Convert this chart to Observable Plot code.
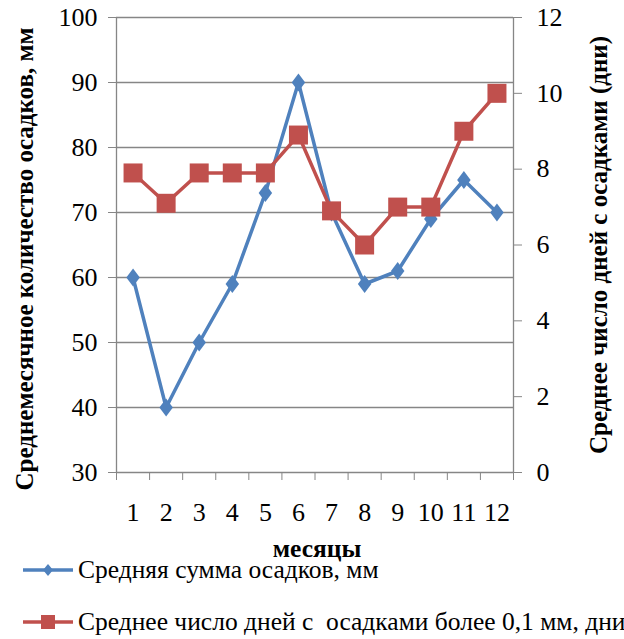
<!DOCTYPE html>
<html><head><meta charset="utf-8">
<script src="https://cdn.jsdelivr.net/npm/d3@7"></script>
<script src="https://cdn.jsdelivr.net/npm/@observablehq/plot@0.6"></script>
<style>
body{margin:0;background:#fff;}
#wrap{position:relative;width:624px;height:639px;font-family:'Liberation Serif';color:#000;}
.leg{position:absolute;left:18px;height:30px;display:flex;align-items:center;font-family:'Liberation Serif';font-size:25.5px;white-space:pre;line-height:30px;}
.leg svg{margin-right:3px;}
svg text{font-family:'Liberation Serif';}
</style></head><body><div id="wrap"></div>
<script>
const months = [1,2,3,4,5,6,7,8,9,10,11,12];
const precip = [60,40,50,59,73,90,70,59,61,69,75,70];
const rainDays = [7.9,7.1,7.9,7.9,7.9,8.9,6.9,6.0,7.0,7.0,9.0,10.0];
const leftTicks = [30,40,50,60,70,80,90,100];
const rightTicks = [0,2,4,6,8,10,12];
const seriesNames = ["Средняя сумма осадков, мм", "Среднее число дней с  осадками более 0,1 мм, дни"];
const leftTitle = "Среднемесячное количество осадков, мм";
const rightTitle = "Среднее число дней с осадками (дни)";
const xTitle = "месяцы";

const FONT = "Liberation Serif";
const blue = "#4F81BD", red = "#C0504D", gray = "#868686";
const toLeft = d => 30 + d * 70 / 12;
const data = months.map((m, i) => ({month: m, precip: precip[i], days: toLeft(rainDays[i])}));
const bounds = d3.range(0.5, 13, 1);

const diamond = {draw(ctx, size){const r = Math.sqrt(size/Math.PI), w = r*0.75; ctx.moveTo(0,-r); ctx.lineTo(w,0); ctx.lineTo(0,r); ctx.lineTo(-w,0); ctx.closePath();}};
const square = {draw(ctx, size){const r = Math.sqrt(size/Math.PI); ctx.moveTo(-r,-r); ctx.lineTo(r,-r); ctx.lineTo(r,r); ctx.lineTo(-r,r); ctx.closePath();}};

const chart = Plot.plot({
  width: 624, height: 639,
  marginLeft: 116, marginRight: 111, marginTop: 17, marginBottom: 167,
  style: {fontFamily: FONT, fontSize: "26px", background: "white", color: "#000"},
  x: {domain: [0.5, 12.5]},
  y: {domain: [30, 100]},
  marks: [
    Plot.ruleY(leftTicks.filter(d => d > 30), {stroke: gray, strokeWidth: 1.3}),
    Plot.ruleY([30], {stroke: gray, strokeWidth: 1.3}),
    Plot.ruleX([0.5, 12.5], {stroke: gray, strokeWidth: 1.3}),
    Plot.axisY({ticks: leftTicks, tickSize: 8, tickPadding: 11, stroke: gray, fill: "#000", label: null, fontSize: 26, fontFamily: FONT}),
    Plot.axisY({anchor: "right", ticks: rightTicks.map(toLeft), tickFormat: (d, i) => rightTicks[i], tickSize: 8, tickPadding: 15, stroke: gray, fill: "#000", label: null, fontSize: 26, fontFamily: FONT}),
    Plot.axisX({ticks: bounds, tickSize: 8, tickFormat: () => "", stroke: gray, label: null}),
    Plot.axisX({ticks: months, tickSize: 0, tickPadding: 30, fill: "#000", label: null, fontSize: 26, fontFamily: FONT}),
    Plot.line(data, {x: "month", y: "precip", stroke: blue, strokeWidth: 3.5}),
    Plot.dot(data, {x: "month", y: "precip", symbol: diamond, r: 9, fill: blue, stroke: null}),
    Plot.line(data, {x: "month", y: "days", stroke: red, strokeWidth: 3.5}),
    Plot.dot(data, {x: "month", y: "days", symbol: square, r: 9.5, fill: red, stroke: null}),
    Plot.text([leftTitle], {frameAnchor: "left", textAnchor: "middle", rotate: -90, dx: -92, dy: 14, fontWeight: "bold", fontSize: 25, fontFamily: FONT, fill: "#000"}),
    Plot.text([rightTitle], {frameAnchor: "right", textAnchor: "middle", rotate: -90, dx: 85, dy: 0, fontWeight: "bold", fontSize: 25, fontFamily: FONT, fill: "#000"}),
    Plot.text([xTitle], {frameAnchor: "bottom", textAnchor: "middle", dx: 2, dy: 84, fontWeight: "bold", fontSize: 25.5, fontFamily: FONT, fill: "#000"})
  ]
});
const wrap = document.getElementById("wrap");
wrap.appendChild(chart);

const legendItems = [
  {name: seriesNames[0], color: blue, sym: "diamond", top: 555},
  {name: seriesNames[1], color: red, sym: "square", top: 607}
];
for (const it of legendItems) {
  const div = document.createElement("div");
  div.className = "leg";
  div.style.top = it.top + "px";
  const sw = d3.create("svg").attr("width", 57).attr("height", 30);
  sw.append("line").attr("x1", 5).attr("x2", 55).attr("y1", 15).attr("y2", 15).attr("stroke", it.color).attr("stroke-width", 3.5);
  if (it.sym === "diamond") sw.append("path").attr("d", "M30,9L35,15L30,21L25,15Z").attr("fill", it.color);
  else sw.append("rect").attr("x", 23).attr("y", 8).attr("width", 14).attr("height", 14).attr("fill", it.color);
  div.appendChild(sw.node());
  const span = document.createElement("span");
  span.textContent = it.name;
  div.appendChild(span);
  wrap.appendChild(div);
}
</script>
</body></html>
